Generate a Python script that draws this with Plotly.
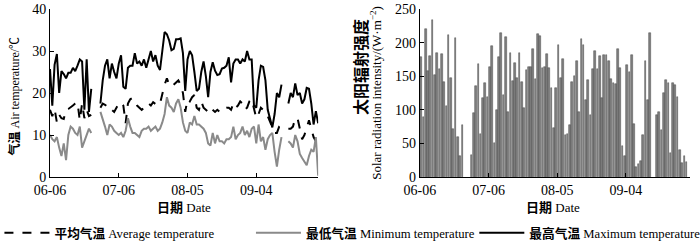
import pandas as pd
import plotly.graph_objects as go

START = "2023-06-06"
N_DAYS = 118
TICK_DATES = ["2023-06-06", "2023-07-06", "2023-08-05", "2023-09-04"]
TICK_TEXT = ["06-06", "07-06", "08-05", "09-04"]

# temperatures, days 0..117 (None = missing)
MAX_TEMP = [25.7, 17, 26.7, 29.3, 20, 25.2, 24.5, 23.5, 24.8, 24.8, 26, 25.2, 26.5, 28, 27.5, 16, 28, 15.5, 21,
            None, None, None,
            17.5, 23, 26.5, 28, 23.5, 27, 25, 23.5, 27, 29,
            21.5, 21, 26, 26.5, 26.5, 29.5, 27, 27.5, 26.5, 28,
            26, 28, 30, 27.5, 29, 26.5, 25.5, 30, 34.5, 34,
            32.5, 30.2, 30.5, 32.8, 32.8, 33, 29.5, 20.5, 28, 30,
            29, 25, 20.5, 21, 25, 27.5, 24, 19, 25, 27.3,
            25.3, 24.3, 24.5, 25.8, 26, 26.5, 28.5, 22.5, 27, 28,
            28, 27, 28, 27.5, 30, 28, 28, 17, 16.5, 23,
            26.5, 26.2, 23, 16, 13.5, 11.8, 15, 20, 19, 22,
            None, None,
            17.5, 20, 19, 22.3, 19.5, 20, 17.5, 18.5, 21.2, 21, 17.5, 12.5, 15.7, 12.8]

AVG_TEMP = [16, 14.5, 16.2, 13, 14.8, 14, 13.8, 16, 16.2, 16.5, 17, 17.5, 17.8, 13.5, 17.5, 14, 16, 14.5, 14.8,
            None, None, None,
            16.5, 17.5, 17.2, 16.8, 17, 16, 15.5, 16.5, 17.5, 17.8,
            17, 12.8, 17.5, 18.5, 18.8, 18, 17, 16.5, 16, 16.5,
            16.5, 17.5, 17, 17.8, 17.5, 17, 17.5, 20, 22, 23.5,
            22, 21.5, 22, 22.5, 23, 22, 20, 15.5, 18.5, 18,
            19, 19.5, 16.5, 16, 18, 16.5, 16, 15.5, 16.5, 16,
            15.5, 16, 15.5, 15.5, 16, 16.5, 16.5, 16, 17.5, 16.5,
            17, 18, 17.5, 16, 16.5, 18, 18.5, 16.5, 14, 15,
            16.5, 16, 15, 14.5, 13, 11.5, 10.5, 10.5, 12, 12.5,
            None, None,
            11.5, 11.5, 12, 14, 14, 11.5, 9, 10, 12, 13.5, 11.5, 9.5, 8.5, 9.2]

MIN_TEMP = [10, 9, 8.5, 9.5, 7, 5, 8, 4, 10, 12, 11.5, 10.5, 10, 12, 7, 8.5, 10, 11.5, 10.5,
            None, None, None,
            15.5, 14, 12, 10, 12.5, 12, 11, 10.5, 10, 10.5,
            9.5, 11, 14, 12, 10.5, 10.5, 10, 9.5, 11, 11.5,
            11.5, 12, 11, 11.5, 12, 11, 11.5, 13, 15, 19,
            17, 16.5, 15.5, 17.5, 18.5, 16.5, 13, 11, 10.5, 13,
            12.5, 14.5, 12.5, 12.5, 12, 11.5, 10.5, 8, 7.5, 10.5,
            8, 10, 8.5, 8.5, 8, 9, 9, 9.5, 12, 9,
            10, 10.5, 12, 10, 11, 9.5, 11.5, 12, 8, 12.5,
            8.5, 9.5, 6.5, 9, 10, 10.5, 6, 2.5, 6.5, 9.5,
            None, None,
            8.5, 8, 7, 10, 8.5, 5.5, 4.5, 3.5, 2.8, 5, 6.5, 6, 9.5, 0.3]

# solar radiation, days 0..117
RADIATION = [178, 89, 220, 158, 180, 234, 152, 185, 160, 183, 142, 106, 212, 147, 71, 207, 59, 31, 77,
             None, None, None,
             33, 95, 136, 168, 64, 118, 140, 119, 164, 195, 51, 100, 178, 215, 122, 208, 97, 184, 143, 169,
             148, 184, 141, 102, 159, 164, 164, 190, 146, 213, 210, 162, 163, 183, 162, 133, 73, 132,
             196, 147, 176, 63, 64, 78, 141, 150, 173, 97, 206, 196, 115, 145, 93, 160, 188, 161, 180, 117,
             182, 182, 173, 146, 140, 138, 190, 162, 46, 31, 166, 157, 181, 79, 15, 19, 24, 62, 172, 114, 215,
             None, None,
             93, 96, 70, 125, 145, 140, 36, 140, 137, 119, 40, 21, 31, 22,
             None]

DATES = pd.date_range(START, periods=N_DAYS, freq="D")

SERIF = "Liberation Serif, Times New Roman, Noto Sans CJK SC, serif"

fig = go.Figure()
fig.add_trace(go.Scatter(x=DATES, y=AVG_TEMP, mode="lines", name="<b>平均气温</b> Average temperature",
                         line=dict(color="black", width=2, dash="dash"), xaxis="x", yaxis="y",
                         legend="legend"))
fig.add_trace(go.Scatter(x=DATES, y=MIN_TEMP, mode="lines", name="<b>最低气温</b> Minimum temperature",
                         line=dict(color="#8a8a8a", width=2), xaxis="x", yaxis="y",
                         legend="legend2"))
fig.add_trace(go.Scatter(x=DATES, y=MAX_TEMP, mode="lines", name="<b>最高气温</b> Maximum temperature",
                         line=dict(color="black", width=2), xaxis="x", yaxis="y",
                         legend="legend3"))
fig.add_trace(go.Bar(x=DATES, y=RADIATION, xperiod=86400000, xperiodalignment="middle",
                     width=0.72 * 86400000, marker=dict(color="#7f7f7f", line=dict(color="#4a4a4a", width=0.5)),
                     showlegend=False, xaxis="x2", yaxis="y2"))

axis_common = dict(showline=True, linecolor="black", linewidth=1, ticks="inside", ticklen=4,
                   tickcolor="black", showgrid=False, zeroline=False,
                   tickfont=dict(family=SERIF, size=14, color="black"))

legend_common = dict(orientation="h", xanchor="left", y=-0.333, yanchor="middle",
                     font=dict(family=SERIF, size=12.7, color="black"), itemwidth=45,
                     bgcolor="rgba(0,0,0,0)")

TXT = dict(family=SERIF, size=13, color="black")

fig.update_layout(
    width=700, height=245,
    margin=dict(l=50, r=10, t=9, b=68, autoexpand=False),
    paper_bgcolor="white", plot_bgcolor="white",
    xaxis=dict(domain=[0, 0.419], type="date", range=["2023-06-06", "2023-10-01"],
               tickvals=TICK_DATES, ticktext=TICK_TEXT, anchor="y", **axis_common),
    yaxis=dict(range=[0, 40], tickvals=[0, 10, 20, 30, 40], anchor="x", **axis_common),
    xaxis2=dict(domain=[0.578, 1.0], type="date", range=["2023-06-06", "2023-10-02"],
                tickvals=TICK_DATES, ticktext=TICK_TEXT, anchor="y2", **axis_common),
    yaxis2=dict(range=[0, 250], tickvals=[0, 50, 100, 150, 200, 250], anchor="x2", **axis_common),
    bargap=0,
    showlegend=True,
    legend=dict(x=-0.079, **legend_common),
    legend2=dict(x=0.314, **legend_common),
    legend3=dict(x=0.663, **legend_common),
    annotations=[
        dict(text="<b>气温</b> Air temperature/℃", xref="paper", yref="paper", x=-0.056, y=0.48,
             xanchor="center", yanchor="middle", textangle=-90, showarrow=False,
             font=dict(family=SERIF, size=12, color="black")),
        dict(text="<b>太阳辐射强度</b>", xref="paper", yref="paper", x=0.486, y=0.655,
             xanchor="center", yanchor="middle", textangle=-90, showarrow=False,
             font=dict(family=SERIF, size=16, color="black")),
        dict(text="Solar radiation intensity/(W·m<sup>−2</sup>)", xref="paper", yref="paper", x=0.509, y=0.5,
             xanchor="center", yanchor="middle", textangle=-90, showarrow=False, font=TXT),
        dict(text="<b>日期</b> Date", xref="paper", yref="paper", x=0.209, y=-0.179,
             xanchor="center", yanchor="middle", showarrow=False, font=TXT),
        dict(text="<b>日期</b> Date", xref="paper", yref="paper", x=0.786, y=-0.179,
             xanchor="center", yanchor="middle", showarrow=False, font=TXT),
    ],
)

fig.write_html("out.html", config={"displayModeBar": False},
               post_script="document.body.style.margin='0';document.body.style.overflow='hidden';")
